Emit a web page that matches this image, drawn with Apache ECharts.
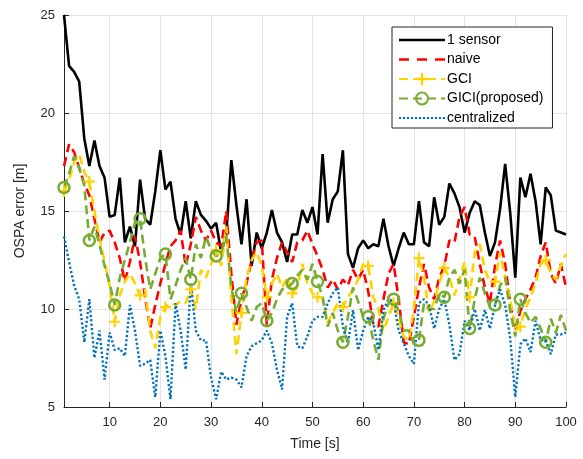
<!DOCTYPE html>
<html>
<head>
<meta charset="utf-8">
<script src="https://cdn.jsdelivr.net/npm/echarts@6/dist/echarts.min.js"></script>
<style>html,body{margin:0;padding:0;background:#fff;}#c{width:583px;height:459px;}</style>
</head>
<body>
<div id="c"></div>
<script>
var time = [];
for (var i = 1; i <= 100; i++) time.push(i);

var sensor1 = [25,22.4,22.1,21.6,18.7,17.3,18.6,17.3,16.7,14.7,14.8,16.7,13.4,14.2,13.2,16.6,14.6,14.3,16.0,18.1,
16.1,16.5,14.6,13.8,15.5,13.6,15.5,14.8,14.5,14.1,14.4,12.9,13.8,17.6,15.3,13.3,15.6,12.2,13.9,13.1,
13.9,15.05,13.9,13.4,12.4,13.8,13.8,15.05,14.4,15.2,13.8,17.9,14.4,15.6,16.0,18.1,12.8,12.1,13.1,13.5,
13.1,13.3,13.2,14.6,13.2,12.2,13.1,13.9,13.3,13.3,15.5,13.4,13.2,15.7,14.3,14.7,16.4,15.9,15.2,13.9,
14.9,15.5,15.3,13.9,12.7,13.4,15.1,17.4,14.9,11.6,16.7,15.7,16.9,15.5,13.3,16.2,15.8,14.0,13.9,13.8];

var naive = [17.3,18.4,18.0,17.2,16.4,15.8,14.6,13.4,13.9,14.0,13.4,12.6,11.4,12.4,13.7,12.4,10.6,9.0,10.2,11.3,
12.3,13.2,13.5,14.0,12.2,13.3,14.7,14.0,13.5,14.0,13.4,13.2,15.0,11.8,9.2,10.5,11.3,12.5,13.4,13.5,
9.2,11.5,12.6,13.4,12.9,12.4,13.4,13.5,14.0,13.3,12.7,12.0,11.1,11.5,11.0,11.5,11.2,12.0,11.5,12.0,
10.9,9.2,9.1,10.5,11.8,12.3,10.5,8.3,8.2,9.6,11.1,12.3,11.1,10.5,11.6,12.2,13.5,13.4,14.7,15.2,
13.8,13.7,12.3,11.1,10.3,12.2,13.5,12.3,10.3,8.9,9.9,10.5,11.0,11.6,12.7,13.4,11.8,11.3,12.3,11.1];

var gci = [16.0,16.6,17.5,17.9,17.0,16.5,15.0,13.6,12.4,11.2,9.35,10.7,11.4,11.8,11.3,10.7,11.0,8.9,8.0,9.6,
10.1,10.3,10.2,10.4,10.3,11.0,10.0,12.0,11.6,12.3,13.0,12.2,14.2,10.6,7.7,9.8,11.6,12.5,12.9,12.2,
10.6,11.3,11.8,11.1,11.6,10.8,11.1,12.3,11.3,10.8,10.6,10.6,9.3,9.8,10.3,10.1,10.6,11.0,11.5,12.3,
12.2,10.6,10.0,8.9,9.6,10.3,9.5,8.6,8.4,10.0,12.6,11.6,9.8,10.4,11.3,12.1,11.6,10.7,11.5,12.4,
10.6,12.9,13.3,12.0,11.4,11.4,12.9,11.6,10.5,8.9,9.1,10.0,10.6,11.3,12.3,12.5,11.8,11.5,12.2,12.8];

var gici = [16.2,16.9,17.8,17.2,16.3,13.5,14.2,13.3,12.2,11.3,10.2,11.6,12.5,13.4,14.4,14.6,12.6,11.0,11.8,12.6,
12.8,10.5,11.2,12.0,12.6,11.5,13.3,12.6,13.7,13.0,12.7,12.9,13.7,11.1,9.8,10.8,10.1,9.4,10.1,10.3,
9.4,9.8,10.5,11.0,11.1,11.3,11.7,12.0,11.5,12.3,11.4,10.6,9.1,9.8,8.9,8.3,9.6,11.1,10.4,9.6,
9.6,8.4,7.4,9.5,10.3,10.5,9.9,8.9,8.9,8.2,8.4,10.3,10.0,10.0,10.8,10.6,11.6,12.0,11.3,12.0,
9.0,10.5,11.6,10.8,10.1,10.2,11.2,11.6,9.9,8.6,10.5,9.8,9.3,9.6,9.0,8.3,9.5,8.8,9.7,8.9];

var centralized = [13.7,12.4,11.2,10.5,8.3,10.5,7.5,8.9,6.4,8.8,7.9,8.0,7.6,10.2,8.9,7.1,7.2,7.4,5.5,8.9,
7.6,5.4,10.3,8.9,6.9,11.3,8.9,8.4,8.4,6.5,5.4,6.8,6.4,6.5,6.4,6.0,7.6,8.1,8.25,8.4,
8.9,8.25,6.9,5.9,9.6,10.3,8.1,8.0,8.6,9.4,9.6,9.6,10.3,10.8,11.1,9.1,8.25,9.95,7.9,8.9,
9.6,9.3,7.9,9.95,10.5,10.4,8.9,8.25,7.6,7.2,10.3,10.5,10.2,9.0,10.0,10.5,9.2,7.4,7.7,9.4,
8.9,10.0,8.9,9.95,9.0,10.2,11.0,10.2,8.5,5.5,8.2,8.5,7.8,9.4,8.4,8.4,7.7,8.7,8.7,8.8];

var xTicks = [10,20,30,40,50,60,70,80,90,100];
var yTicks = [5,10,15,20,25];
var markerStep = 5;

function pairs(arr) { return arr.map(function (v, i) { return [time[i], v]; }); }
function marked(arr) {
  return arr.map(function (v, i) {
    var item = { value: [time[i], v] };
    if (i % markerStep !== 0) item.symbol = 'none';
    return item;
  });
}

// legend sample glyphs (solid bar, three dashes, row of dots)
function barsPath(starts, w, h) {
  return 'path://' + starts.map(function (s) {
    return 'M' + s + ',0 L' + (s + w) + ',0 L' + (s + w) + ',' + h + ' L' + s + ',' + h + ' Z';
  }).join(' ');
}
var solidIcon = barsPath([0], 46, 2.6);
var dashIcon = barsPath([0, 18, 36], 10, 2.6);
var dotStarts = [];
for (var d = 0; d < 12; d++) dotStarts.push(d * 4);
var dotIcon = barsPath(dotStarts, 2.2, 2.2);

var plusPath = 'path://M4,0 L6,0 L6,4 L10,4 L10,6 L6,6 L6,10 L4,10 L4,6 L0,6 L0,4 L4,4 Z';
var font = 'Liberation Sans, Arial, Helvetica, sans-serif';

var chart = echarts.init(document.getElementById('c'), null, { renderer: 'canvas' });
chart.setOption({
  animation: false,
  backgroundColor: '#ffffff',
  grid: { left: 64, right: 17, top: 15, bottom: 52, containLabel: false },
  legend: {
    orient: 'vertical',
    left: 392, top: 27,
    padding: [6, 9, 3, 6],
    itemGap: 5.5,
    itemWidth: 46,
    itemHeight: 15,
    backgroundColor: '#ffffff',
    borderColor: '#262626',
    borderWidth: 1,
    borderRadius: 0,
    textStyle: { fontFamily: font, fontSize: 14, color: '#000', padding: [0, 0, 0, -3] },
    data: [
      { name: '1 sensor', icon: solidIcon, itemStyle: { color: '#000000' } },
      { name: 'naive', icon: dashIcon, itemStyle: { color: '#ff0000' } },
      'GCI',
      'GICI(proposed)',
      { name: 'centralized', icon: dotIcon, itemStyle: { color: '#0072bd' } }
    ]
  },
  xAxis: {
    type: 'value', min: 1, max: 100,
    name: 'Time [s]', nameLocation: 'middle', nameGap: 30,
    nameTextStyle: { fontFamily: font, fontSize: 14, color: '#262626' },
    axisLine: { show: true, onZero: false, lineStyle: { color: '#262626', width: 1 } },
    axisTick: { show: true, inside: true, length: 5, customValues: xTicks, lineStyle: { color: '#262626' } },
    axisLabel: { customValues: xTicks, fontFamily: font, fontSize: 13, color: '#262626', margin: 9 },
    splitLine: { show: true, lineStyle: { color: '#e3e3e3', width: 1 } }
  },
  yAxis: {
    type: 'value', min: yTicks[0], max: yTicks[yTicks.length - 1], interval: 5,
    name: 'OSPA error [m]', nameLocation: 'middle', nameGap: 37, nameRotate: 90,
    nameTextStyle: { fontFamily: font, fontSize: 14, color: '#262626' },
    axisLine: { show: true, onZero: false, lineStyle: { color: '#262626', width: 1 } },
    axisTick: { show: true, inside: true, length: 5, lineStyle: { color: '#262626' } },
    axisLabel: { fontFamily: font, fontSize: 13, color: '#262626', margin: 9 },
    splitLine: { show: true, lineStyle: { color: '#e3e3e3', width: 1 } }
  },
  series: [
    { name: '1 sensor', type: 'line', data: pairs(sensor1), showSymbol: false,
      lineStyle: { color: '#000000', width: 2.6 }, itemStyle: { color: '#000000' } },
    { name: 'naive', type: 'line', data: pairs(naive), showSymbol: false,
      lineStyle: { color: '#ff0000', width: 2.6, type: [9, 5] }, itemStyle: { color: '#ff0000' } },
    { name: 'GCI', type: 'line', data: marked(gci), symbol: plusPath, symbolSize: 11,
      showSymbol: true, showAllSymbol: true,
      lineStyle: { color: '#ffd200', width: 2.6, type: [9, 5] }, itemStyle: { color: '#ffd200' } },
    { name: 'GICI(proposed)', type: 'line', data: marked(gici), symbol: 'circle', symbolSize: 11,
      showSymbol: true, showAllSymbol: true,
      lineStyle: { color: '#77ac30', width: 2.6, type: [9, 5] },
      itemStyle: { color: 'rgba(255,255,255,0)', borderColor: '#77ac30', borderWidth: 2.5 } },
    { name: 'centralized', type: 'line', data: pairs(centralized), showSymbol: false,
      lineStyle: { color: '#0072bd', width: 2.4, type: [2.2, 2.2] }, itemStyle: { color: '#0072bd' } }
  ]
});
</script>
</body>
</html>
